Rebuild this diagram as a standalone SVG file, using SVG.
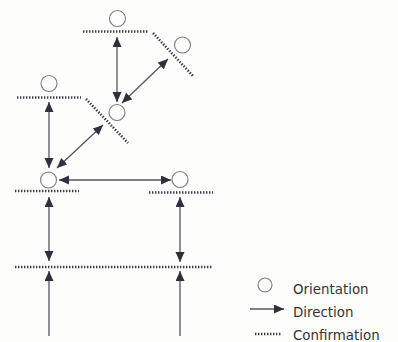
<svg xmlns="http://www.w3.org/2000/svg" width="398" height="342" viewBox="0 0 398 342">
<style>
.bg{fill:#fdfdfb}
.c{fill:none;stroke:#7a7a80;stroke-width:1.1}
.d{fill:none;stroke:#3a3a4a;stroke-width:2.6;stroke-dasharray:1.4 1.6}
.a{fill:none;stroke:#555560;stroke-width:1.3}
.t{font-family:"DejaVu Sans",sans-serif;font-size:13.4px;fill:#333338}
</style>
<defs>
<marker id="ah" markerUnits="userSpaceOnUse" markerWidth="12" markerHeight="10" refX="10" refY="4.5" orient="auto-start-reverse" viewBox="0 0 12 10">
<path d="M0,0 L10,4.5 L0,9 Z" fill="#2f2f40"/>
</marker>
</defs>
<rect class="bg" width="398" height="342"/>
<g id="node-top">
<circle class="c" cx="117.5" cy="18.5" r="8"/>
<line class="d" x1="83" y1="31.5" x2="148" y2="31.5"/>
</g>
<g id="node-topright">
<circle class="c" cx="182.5" cy="45" r="8"/>
<line class="d" x1="153" y1="33" x2="193" y2="76"/>
</g>
<g id="node-left">
<circle class="c" cx="49" cy="83.5" r="8"/>
<line class="d" x1="17" y1="97.5" x2="81" y2="97.5"/>
</g>
<g id="node-middle">
<circle class="c" cx="117" cy="112.5" r="8"/>
<line class="d" x1="86" y1="99" x2="128" y2="143"/>
</g>
<g id="node-center-left">
<circle class="c" cx="48.5" cy="180" r="8"/>
<line class="d" x1="15" y1="191" x2="79" y2="191"/>
</g>
<g id="node-center-right">
<circle class="c" cx="180" cy="179.5" r="8"/>
<line class="d" x1="149" y1="192.5" x2="213" y2="192.5"/>
</g>
<g id="node-base">
<line class="d" x1="15" y1="267" x2="213" y2="267"/>
</g>
<g id="connectors">
<line class="a" x1="117" y1="37" x2="117" y2="102" marker-start="url(#ah)" marker-end="url(#ah)"/>
<line class="a" x1="168" y1="59" x2="122" y2="103" marker-start="url(#ah)" marker-end="url(#ah)"/>
<line class="a" x1="49" y1="102" x2="49" y2="168" marker-start="url(#ah)" marker-end="url(#ah)"/>
<line class="a" x1="103" y1="125" x2="57" y2="168" marker-start="url(#ah)" marker-end="url(#ah)"/>
<line class="a" x1="59" y1="180" x2="171" y2="180" marker-start="url(#ah)" marker-end="url(#ah)"/>
<line class="a" x1="49" y1="197" x2="49" y2="261" marker-start="url(#ah)" marker-end="url(#ah)"/>
<line class="a" x1="180" y1="197" x2="180" y2="262" marker-start="url(#ah)" marker-end="url(#ah)"/>
<line class="a" x1="49" y1="336" x2="49" y2="271" marker-end="url(#ah)"/>
<line class="a" x1="180" y1="336" x2="180" y2="271" marker-end="url(#ah)"/>
</g>
<g id="legend">
<circle class="c" cx="265" cy="285" r="7"/>
<text class="t" x="293" y="294">Orientation</text>
<line class="a" x1="250" y1="309" x2="284" y2="309" marker-end="url(#ah)"/>
<text class="t" x="293" y="316.5">Direction</text>
<line class="d" x1="255" y1="334" x2="281" y2="334"/>
<text class="t" x="293" y="340">Confirmation</text>
</g>
</svg>
